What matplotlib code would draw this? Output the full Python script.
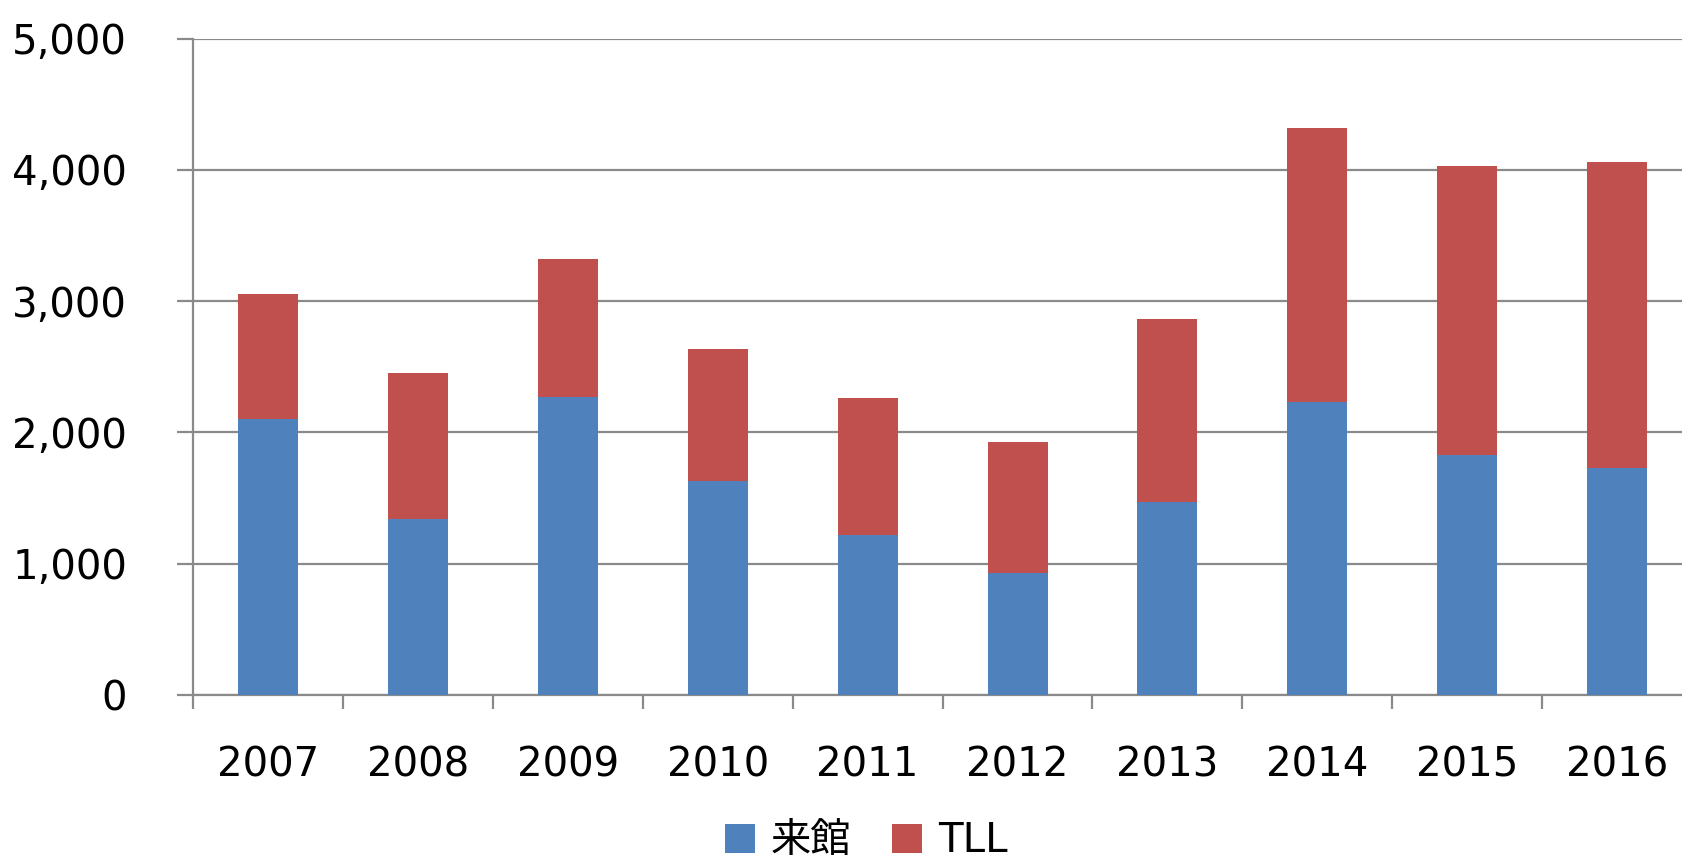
import matplotlib
matplotlib.use("Agg")
import matplotlib.pyplot as plt
import numpy as np

plt.rcParams['font.family'] = ['DejaVu Sans', 'Noto Sans CJK JP']

years = ["2007", "2008", "2009", "2010", "2011", "2012", "2013", "2014", "2015", "2016"]
raikan = [2100, 1338, 2269, 1628, 1220, 927, 1473, 2235, 1826, 1733]
tll = [955, 1115, 1051, 1010, 1041, 998, 1391, 2085, 2204, 2327]

blue = "#4F81BD"
red = "#C0504D"
grid_c = "#8A8A8A"

fig = plt.figure(figsize=(16.82, 8.63), dpi=100)
ax = fig.add_axes([0.1148, 0.1946, 0.8912, 0.7607])

x = np.arange(len(years))
ax.bar(x, raikan, width=0.4, color=blue, label="来館", zorder=3)
ax.bar(x, tll, width=0.4, bottom=raikan, color=red, label="TLL", zorder=3)

ax.set_xlim(-0.5, len(years) - 0.5)
ax.set_ylim(0, 5000)
ax.set_yticks(range(0, 5001, 1000))
ax.set_yticklabels([f"{v:,}" for v in range(0, 5001, 1000)], fontsize=29)
ax.yaxis.grid(True, color=grid_c, linewidth=1.6, zorder=0)

ax.set_xticks(x)
ax.set_xticklabels(years, fontsize=29)
ax.tick_params(axis="x", which="major", length=0, pad=36)
ax.set_xticks(np.arange(-0.5, len(years)), minor=True)
ax.tick_params(axis="x", which="minor", length=10, width=1.6, color=grid_c)
ax.tick_params(axis="y", length=11.5, width=1.6, color=grid_c, pad=36)

for s in ["top", "right"]:
    ax.spines[s].set_visible(False)
for s in ["left", "bottom"]:
    ax.spines[s].set_color(grid_c)
    ax.spines[s].set_linewidth(1.6)

fig.legend(loc="center", bbox_to_anchor=(0.515, 0.025), ncol=2, frameon=False,
           fontsize=29, handlelength=0.75, handleheight=0.75,
           handletextpad=0.4, columnspacing=1.0)

fig.savefig("out.png", dpi=100)
